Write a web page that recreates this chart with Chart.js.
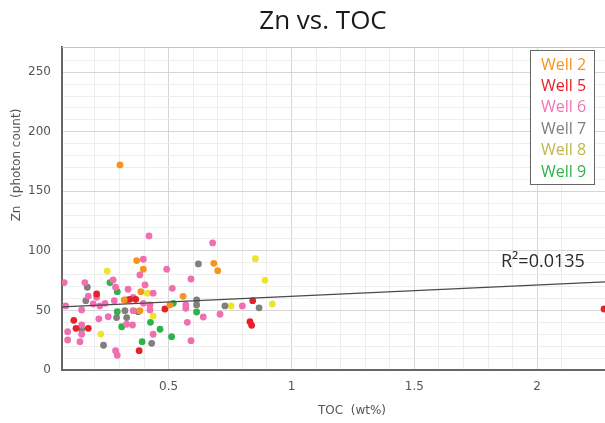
<!DOCTYPE html>
<html>
<head>
<meta charset="utf-8">
<script src="https://cdn.jsdelivr.net/npm/chart.js@4"></script>
<style>
  html, body { margin: 0; padding: 0; background: #fff; }
  #wrap { width: 605px; height: 423px; }
</style>
</head>
<body>
<div id="wrap"><canvas id="znChart" width="605" height="423"></canvas></div>
<script>
// Zn vs TOC
const wellNames = ['Well 2', 'Well 5', 'Well 6', 'Well 7', 'Well 8', 'Well 9'];
const wellColors = ['#f7941d', '#e8202a', '#ef6fb0', '#7f7f7f', '#eee42a', '#2db24c'];
const legendColors = ['#f7941d', '#e8202a', '#ef75b3', '#7f7f7f', '#bdb84c', '#2db24c'];

const well2 = [[0.370, 91.9], [0.397, 84.6], [0.387, 65.8], [0.319, 58.8], [0.383, 49.8], [0.505, 54.6],
    [0.302, 172.2], [0.684, 89.6], [0.700, 83.4], [0.559, 61.9]];
const well5 = [[0.207, 63.8], [0.366, 59.3], [0.342, 59.3], [0.485, 51.2], [0.114, 41.7], [0.123, 35.0],
    [0.173, 35.0], [0.380, 16.2], [0.842, 58.2], [0.831, 40.5], [0.838, 37.5], [2.272, 51.2]];
const well6 = [[0.397, 93.0], [0.492, 84.6], [0.383, 79.8], [0.274, 75.6], [0.159, 73.4], [0.075, 73.4],
    [0.284, 69.5], [0.404, 71.4], [0.335, 67.8], [0.437, 64.5], [0.515, 68.6], [0.173, 62.1],
    [0.207, 61.0], [0.356, 61.0], [0.279, 58.2], [0.241, 56.0], [0.220, 53.8], [0.193, 55.4],
    [0.397, 56.0], [0.424, 54.6], [0.081, 53.8], [0.146, 50.4], [0.356, 49.8], [0.424, 50.4],
    [0.254, 44.7], [0.216, 43.0], [0.146, 37.8], [0.329, 38.4], [0.353, 37.8], [0.146, 30.0],
    [0.089, 32.2], [0.437, 30.0], [0.089, 25.2], [0.139, 23.8], [0.284, 16.2], [0.291, 12.3],
    [0.420, 112.6], [0.679, 106.7], [0.591, 76.4], [0.570, 54.6], [0.570, 51.8], [0.800, 53.8],
    [0.641, 44.5], [0.709, 46.8], [0.576, 40.0], [0.591, 24.6]];
const well7 = [[0.169, 69.5], [0.163, 58.2], [0.329, 58.8], [0.322, 49.8], [0.376, 49.0], [0.288, 44.0],
    [0.329, 44.0], [0.146, 34.2], [0.431, 22.4], [0.235, 20.8], [0.621, 89.1], [0.614, 58.8],
    [0.614, 54.6], [0.729, 53.8], [0.868, 52.2]];
const well8 = [[0.250, 83.1], [0.414, 64.5], [0.224, 30.2], [0.853, 93.5], [0.892, 75.3], [0.754, 53.8],
    [0.922, 55.4], [0.437, 45.4]];
const well9 = [[0.261, 73.4], [0.291, 65.8], [0.519, 56.0], [0.291, 49.0], [0.426, 40.0], [0.309, 36.3],
    [0.465, 34.2], [0.512, 28.0], [0.392, 23.8], [0.614, 48.7]];
const wellData = [well2, well5, well6, well7, well8, well9];

// trend line ends as drawn
const trendX = [0.066, 2.276];
const trendY = [53, 74];
const rSquaredText = 'R\u00b2=0.0135';

const xMin = 0.066, xMax = 2.276;
const yMin = 0, yMax = 271.2;

const isStep = (v, step) => Math.abs(v / step - Math.round(v / step)) < 1e-6;

const datasets = wellData.map((pts, i) => ({
    label: wellNames[i],
    data: pts.map(p => ({ x: p[0], y: p[1] })),
    backgroundColor: wellColors[i],
    borderWidth: 0,
    pointRadius: 3.4,
    order: 1
}));
datasets.push({
    type: 'line',
    label: 'trend',
    data: trendX.map((x, i) => ({ x: x, y: trendY[i] })),
    borderColor: '#4a4a4a',
    borderWidth: 1.2,
    pointRadius: 0,
    fill: false,
    order: 0
});

// titles, legend box and R2 text
const decorPlugin = {
    id: 'decor',
    beforeDatasetsDraw(chart) {
        const ctx = chart.ctx, a = chart.chartArea;
        ctx.save();
        ctx.strokeStyle = '#c4c4c4';
        ctx.lineWidth = 1;
        ctx.beginPath();
        ctx.moveTo(a.left, a.top + 0.5);
        ctx.lineTo(a.right, a.top + 0.5);
        ctx.stroke();
        ctx.restore();
    },
    afterDraw(chart) {
        const ctx = chart.ctx;
        ctx.save();
        ctx.fillStyle = '#1a1a1a';
        ctx.font = '26px "Open Sans"';
        ctx.textAlign = 'center';
        ctx.textBaseline = 'middle';
        ctx.fillText('Zn vs. TOC', 323, 22);

        ctx.fillStyle = '#555';
        ctx.font = '12px "DejaVu Sans"';
        ctx.fillText('TOC  (wt%)', 352, 411);

        ctx.save();
        ctx.translate(17, 165);
        ctx.rotate(-Math.PI / 2);
        ctx.fillText('Zn  (photon count)', 0, 0);
        ctx.restore();

        ctx.fillStyle = '#2a2a2a';
        ctx.font = '18px "Open Sans"';
        ctx.textAlign = 'left';
        ctx.textBaseline = 'alphabetic';
        ctx.fillText(rSquaredText, 501, 267);

        // legend
        ctx.fillStyle = '#fff';
        ctx.fillRect(530, 50, 64, 134);
        ctx.strokeStyle = '#666';
        ctx.lineWidth = 1;
        ctx.strokeRect(530.5, 50.5, 64, 134);
        ctx.font = '16px "Open Sans"';
        ctx.textBaseline = 'middle';
        wellNames.forEach((name, i) => {
            ctx.fillStyle = legendColors[i];
            ctx.fillText(name, 541, 65 + i * 21.4);
        });
        ctx.restore();
    }
};

new Chart(document.getElementById('znChart'), {
    type: 'scatter',
    data: { datasets: datasets },
    options: {
        responsive: false,
        animation: false,
        layout: { autoPadding: false, padding: { top: 47, right: 0, left: 0, bottom: 0 } },
        plugins: { legend: { display: false }, tooltip: { enabled: false } },
        scales: {
            x: {
                type: 'linear', min: xMin, max: xMax,
                afterFit: s => { s.height = 53; s.paddingLeft = 0; s.paddingRight = 0; },
                border: { color: '#666', width: 2 },
                grid: {
                    drawTicks: false,
                    color: c => {
                        const v = c.tick ? c.tick.value : 0;
                        if (isStep(v, 0.5)) return '#d6d6d6';
                        if (isStep(v, 0.1)) return '#ededed';
                        return 'rgba(0,0,0,0)';
                    }
                },
                ticks: {
                    stepSize: 0.1, autoSkip: false, maxRotation: 0, padding: 10,
                    color: '#555', font: { family: 'DejaVu Sans', size: 12 },
                    callback: v => (isStep(v, 0.5) && v > 0.2) ? String(Math.round(v * 10) / 10) : ''
                }
            },
            y: {
                type: 'linear', min: yMin, max: yMax,
                afterFit: s => { s.width = 62; s.paddingTop = 0; s.paddingBottom = 0; },
                border: { color: '#666', width: 2 },
                grid: {
                    drawTicks: false,
                    color: c => {
                        const v = c.tick ? c.tick.value : 0;
                        if (isStep(v, 50)) return '#d6d6d6';
                        if (isStep(v, 10)) return '#ededed';
                        return 'rgba(0,0,0,0)';
                    }
                },
                ticks: {
                    stepSize: 10, autoSkip: false, padding: 11,
                    color: '#555', font: { family: 'DejaVu Sans', size: 12 },
                    callback: v => isStep(v, 50) ? String(Math.round(v)) : ''
                }
            }
        }
    },
    plugins: [decorPlugin]
});
</script>
</body>
</html>
